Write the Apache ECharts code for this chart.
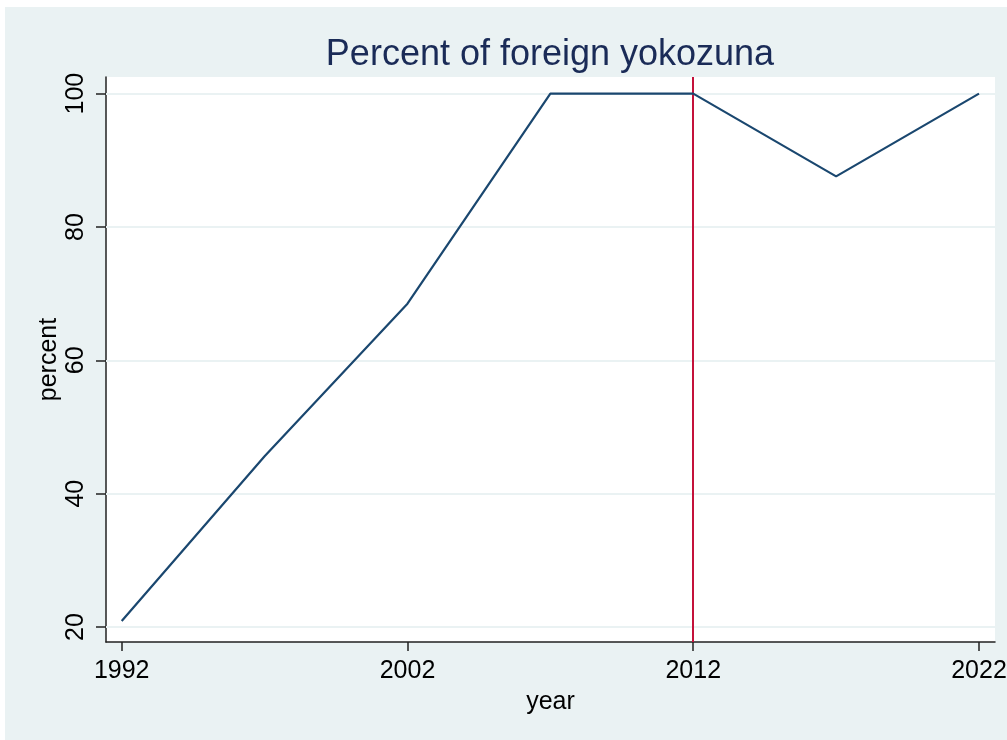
<!DOCTYPE html>
<html>
<head>
<meta charset="utf-8">
<script src="https://cdn.jsdelivr.net/npm/echarts@6/dist/echarts.min.js"></script>
<style>
  html, body { margin: 0; padding: 0; background: #ffffff; overflow: hidden; }
  #chart { position: absolute; left: 5px; top: 7px; width: 1002px; height: 733px; }
</style>
</head>
<body>
<div id="chart"></div>
<script>
const years = [1992, 1997, 2002, 2007, 2012, 2017, 2022];
const percent = [20.9, 45.6, 68.5, 100, 100, 87.6, 100];
const xTicks = [1992, 2002, 2012, 2022];
const yTicks = [20, 40, 60, 80, 100];
const markerYear = 2012;

const font = "'Liberation Sans', Arial, sans-serif";
const chart = echarts.init(document.getElementById("chart"));

chart.setOption({
  backgroundColor: "#eaf2f3",
  animation: false,
  title: {
    text: "Percent of foreign yokozuna",
    left: 540,
    top: 25,
    textAlign: "center",
    textStyle: { fontFamily: font, fontSize: 36, fontWeight: "normal", color: "#1a2b57" }
  },
  grid: {
    left: 101,
    top: 70,
    width: 889,
    height: 565,
    outerBoundsMode: "none",
    containLabel: false,
    show: true,
    backgroundColor: "#ffffff",
    borderWidth: 0
  },
  xAxis: {
    type: "value",
    min: 1991.45,
    max: 2022.56,
    name: "year",
    nameLocation: "middle",
    nameGap: 48,
    nameMoveOverlap: false,
    nameTextStyle: { fontFamily: font, fontSize: 25, color: "#000" },
    axisLine: { show: true, onZero: false, lineStyle: { color: "#222", width: 1.5 } },
    axisTick: { show: true, customValues: xTicks, length: 9, lineStyle: { color: "#222", width: 1.5 } },
    axisLabel: {
      customValues: xTicks,
      margin: 17,
      formatter: (v) => String(v),
      fontFamily: font, fontSize: 25, color: "#000"
    },
    splitLine: { show: false }
  },
  yAxis: {
    type: "value",
    min: 17.75,
    max: 102.5,
    name: "percent",
    nameLocation: "middle",
    nameGap: 44,
    nameMoveOverlap: false,
    nameTextStyle: { fontFamily: font, fontSize: 25, color: "#000" },
    axisLine: { show: true, onZero: false, lineStyle: { color: "#222", width: 1.5 } },
    axisTick: { show: true, customValues: yTicks, length: 10, lineStyle: { color: "#222", width: 1.5 } },
    axisLabel: {
      customValues: yTicks,
      rotate: 90,
      margin: 17,
      formatter: (v) => String(v),
      fontFamily: font, fontSize: 25, color: "#000"
    },
    splitLine: { show: false }
  },
  series: [
    {
      type: "line",
      data: [],
      silent: true,
      z: 1,
      markLine: {
        symbol: "none",
        silent: true,
        label: { show: false },
        lineStyle: { color: "#eaf2f3", width: 2, type: "solid" },
        data: yTicks.map((v) => ({ yAxis: v }))
      }
    },
    {
      type: "line",
      data: years.map((y, i) => [y, percent[i]]),
      symbol: "none",
      lineStyle: { color: "#1a476f", width: 2.2 },
      z: 5
    },
    {
      type: "line",
      data: [],
      silent: true,
      z: 6,
      markLine: {
        symbol: "none",
        silent: true,
        label: { show: false },
        lineStyle: { color: "#c4113a", width: 2, type: "solid" },
        data: [{ xAxis: markerYear }]
      }
    }
  ]
});
</script>
</body>
</html>
